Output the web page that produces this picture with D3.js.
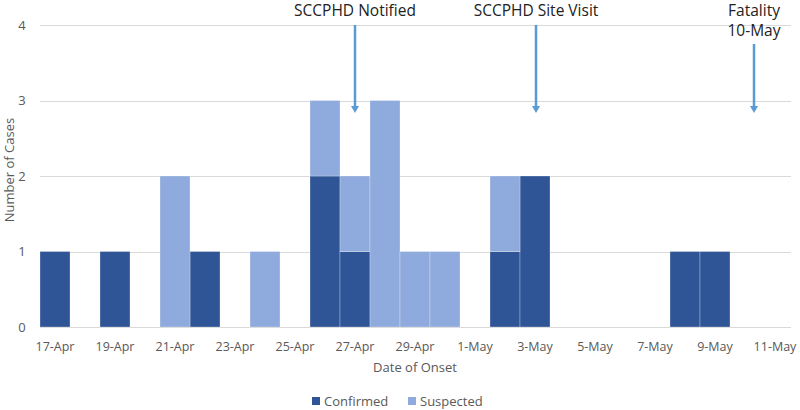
<!DOCTYPE html>
<html>
<head>
<meta charset="utf-8">
<script src="https://cdn.jsdelivr.net/npm/d3@7"></script>
<style>
body { margin:0; background:#fff; }
text { font-family: "Open Sans", "Liberation Sans", sans-serif; }
</style>
</head>
<body>
<svg id="chart" width="800" height="410"></svg>
<script>
const dates = ["17-Apr","18-Apr","19-Apr","20-Apr","21-Apr","22-Apr","23-Apr","24-Apr","25-Apr","26-Apr","27-Apr","28-Apr","29-Apr","30-Apr","1-May","2-May","3-May","4-May","5-May","6-May","7-May","8-May","9-May","10-May","11-May"];
const confirmed = [1,0,1,0,0,1,0,0,0,2,1,0,0,0,0,1,2,0,0,0,0,1,1,0,0];
const suspected = [0,0,0,0,2,0,0,1,0,1,1,3,1,1,0,1,0,0,0,0,0,0,0,0,0];
const yTicks = [0,1,2,3,4];
const seriesNames = ["Confirmed","Suspected"];
const colors = ["#2F5597","#8FAADC"];
const eventDates = ["27-Apr","3-May","10-May"];
const eventLabels = [["SCCPHD Notified"],["SCCPHD Site Visit"],["Fatality","10-May"]];

const svg = d3.select("#chart");
const pLeft = 40, pRight = 790, pTop = 25, pBottom = 327;

const x = d3.scaleBand().domain(dates).range([pLeft, pRight]).padding(0);
const y = d3.scaleLinear().domain([0,4]).range([pBottom, pTop]);

// gridlines
svg.append("g").selectAll("line").data(yTicks).join("line")
  .attr("x1", pLeft).attr("x2", pRight+1)
  .attr("y1", d => Math.round(y(d))+0.5).attr("y2", d => Math.round(y(d))+0.5)
  .attr("stroke", "#d9d9d9").attr("stroke-width", 1);

// stacked data
const table = dates.map((d,i) => ({date:d, Confirmed:confirmed[i], Suspected:suspected[i]}));
const stack = d3.stack().keys(seriesNames)(table);

svg.append("g").selectAll("g").data(stack).join("g")
  .attr("fill", (d,i) => colors[i])
  .selectAll("rect").data(d => d.filter(p => p[1] > p[0])).join("rect")
  .attr("x", d => x(d.data.date))
  .attr("width", x.bandwidth())
  .attr("y", d => y(d[1]))
  .attr("height", d => y(d[0]) - y(d[1]))
  .attr("stroke", "rgba(255,255,255,0.35)").attr("stroke-width", 0.8);

// y tick labels
svg.append("g").selectAll("text").data(yTicks).join("text")
  .attr("x", 22).attr("y", d => y(d)).attr("dy", "0.35em")
  .attr("text-anchor", "middle").attr("fill", "#595959").attr("font-size", 13)
  .text(d => d);

// x tick labels every other day
const xLabels = dates.filter((d,i) => i % 2 === 0);
svg.append("g").selectAll("text").data(xLabels).join("text")
  .attr("x", d => x(d) + x.bandwidth()/2).attr("y", 351)
  .attr("text-anchor", "middle").attr("fill", "#595959").attr("font-size", 12.5)
  .text(d => d);

// axis titles
svg.append("text").attr("x", (pLeft+pRight)/2).attr("y", 372)
  .attr("text-anchor", "middle").attr("fill", "#595959").attr("font-size", 13)
  .text("Date of Onset");
svg.append("text").attr("transform", "translate(14,170) rotate(-90)")
  .attr("text-anchor", "middle").attr("fill", "#595959").attr("font-size", 13)
  .text("Number of Cases");

// event annotations (arrows drawn slightly off the day centre, as in the source)
const arrowColor = "#5B9BD5";
const arrowShift = [0, 1, 9];
eventDates.forEach((dt, k) => {
  const cx = x(dt) + x.bandwidth()/2 + arrowShift[k];
  const lines = eventLabels[k];
  const g = svg.append("g");
  lines.forEach((t,i) => {
    g.append("text").attr("x", cx).attr("y", 16 + i*20)
      .attr("text-anchor", "middle").attr("fill", "#222").attr("font-size", 15.5)
      .text(t);
  });
  const y0 = lines.length > 1 ? 44 : 25;
  const tip = 113;
  g.append("line").attr("x1", cx).attr("x2", cx).attr("y1", y0).attr("y2", tip - 6)
    .attr("stroke", arrowColor).attr("stroke-width", 2.5);
  g.append("path").attr("d", `M${cx-4},${tip-7} L${cx+4},${tip-7} L${cx},${tip} Z`)
    .attr("fill", arrowColor);
});

// legend
const legend = svg.append("g");
const legX = [312, 408];
seriesNames.forEach((s,i) => {
  legend.append("rect").attr("x", legX[i]).attr("y", 397).attr("width", 8).attr("height", 8)
    .attr("fill", colors[i]);
  legend.append("text").attr("x", legX[i] + 12).attr("y", 406)
    .attr("fill", "#595959").attr("font-size", 13).text(s);
});
</script>
</body>
</html>
